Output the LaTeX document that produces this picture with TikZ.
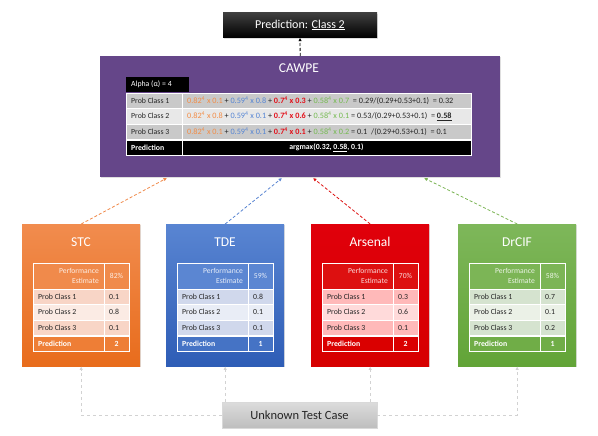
\documentclass[tikz,border=0pt]{standalone}
\usepackage{fontspec}
\setmainfont{Carlito}
\usetikzlibrary{arrows.meta,shadows}
\definecolor{cawpeC}{HTML}{654689}
\definecolor{txt}{HTML}{262626}
\definecolor{rowA}{HTML}{C9C9C9}
\definecolor{rowB}{HTML}{E8E8E8}
\definecolor{fo}{HTML}{F38C45}
\definecolor{fb}{HTML}{5585D4}
\definecolor{fr}{HTML}{E3101A}
\definecolor{fg}{HTML}{74BA50}
% STC
\definecolor{stcTop}{HTML}{F18C4E}
\definecolor{stcBot}{HTML}{E86C1C}
\definecolor{stcP}{HTML}{EE7E36}
\definecolor{stcA}{HTML}{F8D5C6}
\definecolor{stcB}{HTML}{FBEBE4}
\definecolor{stcL}{HTML}{F08A4B}
% TDE
\definecolor{tdeTop}{HTML}{5985D2}
\definecolor{tdeBot}{HTML}{2E5DB6}
\definecolor{tdeP}{HTML}{4573C5}
\definecolor{tdeA}{HTML}{D0D8EC}
\definecolor{tdeB}{HTML}{E9EDF6}
\definecolor{tdeL}{HTML}{5B86D2}
% Arsenal
\definecolor{arsTop}{HTML}{E0000B}
\definecolor{arsBot}{HTML}{D60000}
\definecolor{arsP}{HTML}{DA0000}
\definecolor{arsA}{HTML}{FFB9B9}
\definecolor{arsB}{HTML}{FFDADA}
\definecolor{arsL}{HTML}{DD1010}
% DrCIF
\definecolor{drcTop}{HTML}{7EB75A}
\definecolor{drcBot}{HTML}{62A437}
\definecolor{drcP}{HTML}{70AD47}
\definecolor{drcA}{HTML}{D5E3CF}
\definecolor{drcB}{HTML}{EBF1E7}
\definecolor{drcL}{HTML}{7CB556}
\definecolor{utcTop}{HTML}{DCDCDC}
\definecolor{utcBot}{HTML}{BEBEBE}
\definecolor{grayline}{HTML}{D2D2D2}
\tikzset{
  boxshadow/.style={drop shadow={opacity=0.25,shadow xshift=1.2pt,shadow yshift=-1.2pt}},
  clfbox/.style={boxshadow,minimum width=118pt,minimum height=142pt,inner sep=0pt,anchor=north west},
  clftitle/.style={text=white,font=\fontsize{13.5}{14}\selectfont},
  cellline/.style={draw=white,line width=0.7pt},
  celltxt/.style={text=txt,font=\fontsize{7.8}{9}\selectfont,inner sep=0pt},
  formtxt/.style={text=txt,font=\fontsize{8.2}{9}\selectfont,inner sep=0pt},
  cellwhite/.style={text=white,font=\fontsize{7.8}{9}\selectfont\bfseries,inner sep=0pt},
  conn/.style={densely dashed,line width=0.8pt,-{Latex[length=3.5pt,width=3.5pt]}},
  grayconn/.style={draw=grayline,dashed,line width=0.7pt,-{Latex[length=3.5pt,width=3.5pt]}},
}
\newcommand{\clf}[8]{%
\begin{scope}[shift={(#2,0)}]
  \node[clfbox,top color=#1Top,bottom color=#1Bot] (#1) at (0,224) {};
  \node[clftitle] (#1title) at (59,242) {#3};
  \draw[cellline,fill=#1L] (11,263) rectangle (82,289);
  \draw[cellline,fill=#1L] (82,263) rectangle (107,289);
  \draw[cellline,fill=#1A] (11,289) rectangle (82,304);
  \draw[cellline,fill=#1A] (82,289) rectangle (107,304);
  \draw[cellline,fill=#1B] (11,304) rectangle (82,320);
  \draw[cellline,fill=#1B] (82,304) rectangle (107,320);
  \draw[cellline,fill=#1A] (11,320) rectangle (82,335);
  \draw[cellline,fill=#1A] (82,320) rectangle (107,335);
  \draw[cellline,fill=#1P] (11,336.5) rectangle (82,351);
  \draw[cellline,fill=#1P] (82,336.5) rectangle (107,351);
  \node[anchor=east,align=right,text=white,text opacity=0.85,inner sep=0pt,font=\fontsize{7.6}{10}\selectfont] (#1perfl) at (77,276) {Performance\\Estimate};
  \node[text=white,text opacity=0.85,inner sep=0pt,font=\fontsize{7.6}{9}\selectfont] (#1perfv) at (94.5,276) {#4};
  \node[celltxt,anchor=west] (#1l1) at (16,296.5) {Prob Class 1};
  \node[celltxt,anchor=west] (#1v1) at (87,296.5) {#5};
  \node[celltxt,anchor=west] (#1l2) at (16,312) {Prob Class 2};
  \node[celltxt,anchor=west] (#1v2) at (87,312) {#6};
  \node[celltxt,anchor=west] (#1l3) at (16,327.5) {Prob Class 3};
  \node[celltxt,anchor=west] (#1v3) at (87,327.5) {#7};
  \node[cellwhite,anchor=west] (#1lp) at (16,343.8) {Prediction};
  \node[cellwhite] (#1vp) at (94.5,343.8) {#8};
\end{scope}}
\newcommand{\sq}{\textsuperscript{4}}
\begin{document}
\begin{tikzpicture}[x=1pt,y=-1pt]
\useasboundingbox (0,0) rectangle (598,436);
% prediction box
\node[boxshadow,top color=black!75,bottom color=black,minimum width=154pt,minimum height=25pt,inner sep=0pt,text=white,font=\fontsize{12}{14}\selectfont] (pred) at (300,25) {Prediction: \underline{Class 2}};
% CAWPE
\node[boxshadow,fill=cawpeC,minimum width=400pt,minimum height=121pt,inner sep=0pt,anchor=north west] (cawpe) at (100,56) {};
\node[text=white,font=\fontsize{13.5}{14}\selectfont] (cawpetitle) at (299,68) {CAWPE};
\fill[black] (126,77) rectangle (189,92);
\node[anchor=west,text=white,inner sep=0pt,font=\fontsize{7.8}{9}\selectfont] (alpha) at (131,84.5) {Alpha (α) = 4};
\draw[cellline,fill=rowA] (126,93) rectangle (182,108);
\draw[cellline,fill=rowA] (182,93) rectangle (471,108);
\draw[cellline,fill=rowB] (126,108) rectangle (182,124);
\draw[cellline,fill=rowB] (182,108) rectangle (471,124);
\draw[cellline,fill=rowA] (126,124) rectangle (182,139);
\draw[cellline,fill=rowA] (182,124) rectangle (471,139);
\draw[cellline,fill=black] (126,140.5) rectangle (182,155.5);
\draw[cellline,fill=black] (182,140.5) rectangle (471,155.5);
\node[celltxt,anchor=west] (cl1) at (131,100.5) {Prob Class 1};
\node[celltxt,anchor=west] (cl2) at (131,116) {Prob Class 2};
\node[celltxt,anchor=west] (cl3) at (131,131.5) {Prob Class 3};
\node[cellwhite,anchor=west] (clp) at (131,148) {Prediction};
\node[formtxt,anchor=west] (cf1) at (187,100.5) {{\color{fo}0.82\sq\ x 0.1} + {\color{fb}0.59\sq\ x 0.8} + {\color{fr}\bfseries 0.7\sq\ x 0.3} + {\color{fg}0.58\sq\ x 0.7}\ \ = 0.29/(0.29+0.53+0.1)\ \ = 0.32};
\node[formtxt,anchor=west] (cf2) at (187,116) {{\color{fo}0.82\sq\ x 0.8} + {\color{fb}0.59\sq\ x 0.1} + {\color{fr}\bfseries 0.7\sq\ x 0.6} + {\color{fg}0.58\sq\ x 0.1}\ =\ 0.53/(0.29+0.53+0.1)\ \ = \textbf{\underline{0.58}}};
\node[formtxt,anchor=west] (cf3) at (187,131.5) {{\color{fo}0.82\sq\ x 0.1} + {\color{fb}0.59\sq\ x 0.1} + {\color{fr}\bfseries 0.7\sq\ x 0.1} + {\color{fg}0.58\sq\ x 0.2} =\ 0.1\ \ /(0.29+0.53+0.1)\ \ = 0.1};
\node[cellwhite] (cfp) at (326.5,148) {argmax(0.32, \underline{0.58}, 0.1)};
% classifiers
\clf{stc}{22}{STC}{82\%}{0.1}{0.8}{0.1}{2}
\clf{tde}{166}{TDE}{59\%}{0.8}{0.1}{0.1}{1}
\clf{ars}{311}{Arsenal}{70\%}{0.3}{0.6}{0.1}{2}
\clf{drc}{458}{DrCIF}{58\%}{0.7}{0.1}{0.2}{1}
% unknown test case
\node[boxshadow,top color=utcTop,bottom color=utcBot,draw=white!85!black,line width=0.4pt,minimum width=155pt,minimum height=26pt,inner sep=0pt,text=txt,font=\fontsize{12.5}{14}\selectfont] (utc) at (299.5,415) {Unknown Test Case};
% connectors
\coordinate (e1) at (167,178);
\coordinate (e2) at (282,178);
\coordinate (e3) at (313,178);
\coordinate (e4) at (424,178);
\draw[conn,draw=stcL] (stc.north) -- (e1);
\draw[conn,draw=tdeL] (tde.north) -- (e2);
\draw[conn,draw=arsL] (ars.north) -- (e3);
\draw[conn,draw=drcL] (drc.north) -- (e4);
\draw[conn,draw=black] (cawpe.north) -- (pred.south);
\draw[grayconn] (utc.west) -| (stc.south);
\draw[grayconn] (utc.east) -| (drc.south);
\draw[grayconn] (utc.north -| tde.south) -- (tde.south);
\draw[grayconn] (utc.north -| ars.south) -- (ars.south);
\end{tikzpicture}
\end{document}
